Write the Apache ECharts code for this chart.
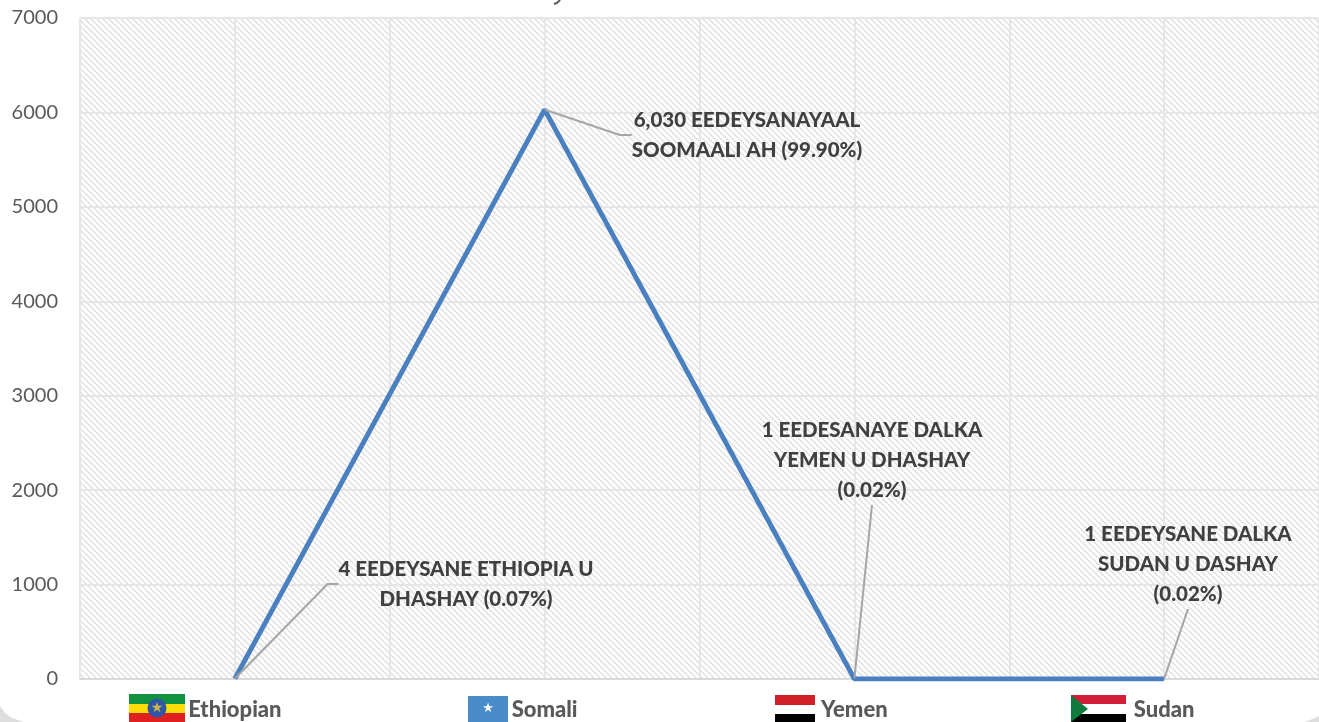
<!DOCTYPE html>
<html><head><meta charset="utf-8">
<style>html,body{margin:0;padding:0;background:#fff}#c{width:1319px;height:722px}</style>
<script src="https://cdn.jsdelivr.net/npm/echarts@6/dist/echarts.min.js"></script>
</head><body><div id="c"></div>
<script>
const categories = ['Ethiopian','Somali','Yemen','Sudan'];
const values = [4, 6030, 1, 1];
const dataLabels = [
  '4 EEDEYSANE ETHIOPIA U\nDHASHAY (0.07%)',
  '6,030 EEDEYSANAYAAL\nSOOMAALI AH (99.90%)',
  '1 EEDESANAYE DALKA\nYEMEN U DHASHAY\n(0.02%)',
  '1 EEDEYSANE DALKA\nSUDAN U DASHAY\n(0.02%)'
];
const gridSlots = ['a','b','c','d','e','f','g','h'];
const yMax = 7000, yStep = 1000;
const labelCentres = [[466,584],[747,135],[872,460],[1188,564]];
const leaderTail = [11,12,0,0];

const hatch = document.createElement('canvas');
hatch.width = 6; hatch.height = 6;
const g = hatch.getContext('2d');
g.fillStyle = '#fff'; g.fillRect(0,0,6,6);
g.strokeStyle = '#e0e0e0'; g.lineWidth = 1.5;
[[-6,0],[0,0],[6,0]].forEach(o=>{g.beginPath();g.moveTo(o[0],0);g.lineTo(o[0]+6,6);g.stroke();});

const chart = echarts.init(document.getElementById('c'));
const font = 'Lato, "Open Sans", sans-serif';
const rect = (x,y,w,h,fill)=>({type:'rect',shape:{x,y,width:w,height:h},style:{fill},z:20});
chart.setOption({
  animation:false,
  backgroundColor:'#fff',
  grid:{left:80,top:18,width:1240,height:661,show:true,backgroundColor:{image:hatch,repeat:'repeat'},borderWidth:0},
  xAxis:[
    {type:'category',data:categories,boundaryGap:true,
     axisLine:{lineStyle:{color:'#d9d9d9',width:2}},axisTick:{show:false},splitLine:{show:false},
     axisLabel:{interval:0,margin:20,fontFamily:font,fontSize:22,fontWeight:900,color:'#595959'}},
    {type:'category',data:gridSlots,boundaryGap:true,position:'top',
     axisLine:{show:true,lineStyle:{color:'#e6e6e6',width:2}},axisTick:{show:false},axisLabel:{show:false},
     splitLine:{show:true,interval:0,lineStyle:{color:'#e6e6e6',width:2}}}
  ],
  yAxis:{type:'value',min:0,max:yMax,interval:yStep,
    axisLine:{show:false},axisTick:{show:false},
    axisLabel:{margin:22,fontFamily:font,fontSize:20,color:'#595959',formatter:v=>String(v)},
    splitLine:{lineStyle:{color:'#e6e6e6',width:2}}},
  series:[{
    type:'line',xAxisIndex:0,smooth:false,showSymbol:true,symbol:'circle',symbolSize:1,
    lineStyle:{color:'#4a80bf',width:5},itemStyle:{color:'#4a80bf'},
    data:values.map((v,i)=>({value:v,
      label:{show:true,formatter:dataLabels[i]},
      labelLine:{show:true,length2:leaderTail[i],lineStyle:{color:'#a6a6a6',width:2}}})),
    label:{show:true,fontFamily:font,fontSize:20.5,fontWeight:900,color:'#404040',lineHeight:30,align:'center',verticalAlign:'middle'},
    labelLayout:p=>({x:labelCentres[p.dataIndex][0],y:labelCentres[p.dataIndex][1],align:'center',verticalAlign:'middle'}),
    z:5
  }],
  graphic:[
    // Ethiopia
    rect(129,694,56,10,'#12923f'),rect(129,704,56,9,'#fcdd09'),rect(129,713,56,9,'#e0201f'),
    {type:'circle',shape:{cx:157,cy:708,r:9.5},style:{fill:'#2f55a4'},z:21},
    {type:'text',style:{x:157,y:708,text:'★',fill:'#c9b94a',fontSize:14,align:'center',verticalAlign:'middle',fontFamily:'DejaVu Sans'},z:22},
    // Somalia
    rect(468,696,40,26,'#4a8bca'),
    {type:'text',style:{x:488,y:709,text:'★',fill:'#fff',fontSize:13,align:'center',verticalAlign:'middle',fontFamily:'DejaVu Sans'},z:22},
    // Yemen
    rect(775,695,40,10,'#cf2027'),rect(775,705,40,9,'#fff'),rect(775,714,40,8,'#000'),
    // Sudan
    rect(1071,695,55,9,'#d21f38'),rect(1071,704,55,10,'#fff'),rect(1071,714,55,8,'#000'),
    {type:'polygon',shape:{points:[[1071,695],[1088,709],[1071,722]]},style:{fill:'#0f7a3e'},z:21},
    // cropped remains of the page behind the chart
    {type:'polygon',shape:{points:[[0,706],[5,713],[12,718],[24,722],[0,722]]},style:{fill:'#dedede'},z:1},
    {type:'polygon',shape:{points:[[1319,716],[1310,720],[1304,722],[1319,722]]},style:{fill:'#dedede'},z:1},
    {type:'polyline',shape:{points:[[560,0],[557,3],[554,4]]},style:{stroke:'#595959',lineWidth:2,fill:'none'},z:1}
  ]
});
</script></body></html>
